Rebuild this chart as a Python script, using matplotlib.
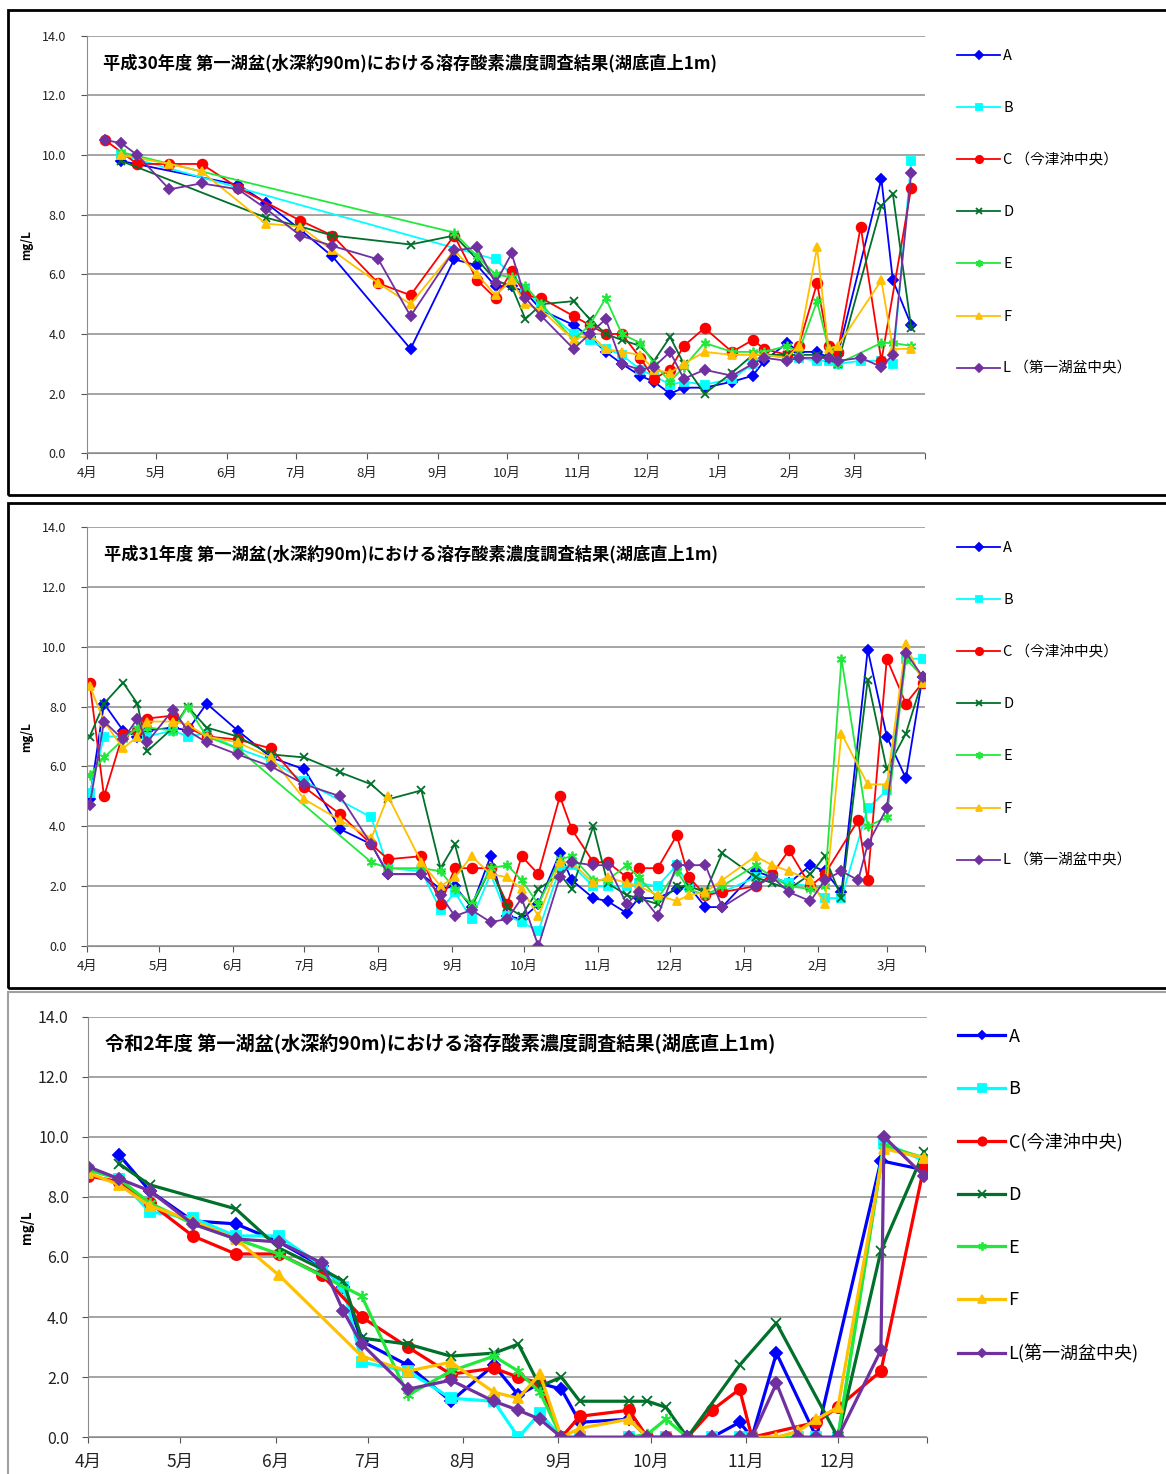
import numpy as np
import pandas as pd
import matplotlib
matplotlib.use('Agg')
import matplotlib.pyplot as plt
from matplotlib.patches import Rectangle

plt.rcParams['font.family'] = ['Noto Sans CJK JP', 'DejaVu Sans']

N = np.nan

# ---- 平成30年度 ----
dates_h30 = ['2018-04-09', '2018-04-16', '2018-04-23', '2018-05-07', '2018-05-21', '2018-06-06',
             '2018-06-18', '2018-07-03', '2018-07-17', '2018-08-06', '2018-08-20', '2018-09-08',
             '2018-09-18', '2018-09-26', '2018-10-03', '2018-10-09', '2018-10-16', '2018-10-30',
             '2018-11-06', '2018-11-13', '2018-11-20', '2018-11-28', '2018-12-04', '2018-12-11',
             '2018-12-17', '2018-12-26', '2019-01-07', '2019-01-16', '2019-01-21', '2019-01-31',
             '2019-02-05', '2019-02-13', '2019-02-18', '2019-02-22', '2019-03-04', '2019-03-13',
             '2019-03-18', '2019-03-26']
h30_A = [N, 9.8, N, N, N, 9.0, 8.4, 7.5, 6.6, N, 3.5, 6.5, 6.3, 5.6, 5.6, 5.4, 4.8, 4.3, 3.9, 3.4,
         3.0, 2.6, 2.4, 2.0, 2.2, 2.2, 2.4, 2.6, 3.1, 3.7, 3.4, 3.4, 3.2, 3.3, N, 9.2, 5.8, 4.3]
h30_B = [N, 10.0, N, N, N, N, N, N, N, N, N, N, N, 6.5, 6.0, 5.5, 4.9, 4.0, 3.8, 3.5,
         3.3, 2.8, 2.6, 2.3, 2.4, 2.3, 2.5, 3.0, 3.3, 3.2, 3.2, 3.1, 3.1, 3.0, 3.1, 3.1, 3.0, 9.8]
h30_C = [10.5, N, 9.7, 9.7, 9.7, 8.9, N, 7.8, 7.3, 5.7, 5.3, 7.3, 5.8, 5.2, 6.1, 5.3, 5.2, 4.6, 4.3, 4.0,
         4.0, 3.2, 2.5, 2.8, 3.6, 4.2, 3.4, 3.8, 3.5, 3.3, 3.6, 5.7, 3.6, 3.4, 7.6, 3.1, N, 8.9]
h30_D = [N, 9.8, N, N, N, N, 7.9, 7.6, 7.3, N, 7.0, 7.3, 6.5, 5.8, 5.6, 4.5, 5.0, 5.1, 4.5, 4.0,
         3.8, 3.6, 3.1, 3.9, 3.0, 2.0, 2.7, 3.3, 3.3, 3.3, 3.3, 3.3, 3.2, 3.0, N, 8.3, 8.7, 4.2]
h30_E = [N, 10.1, N, N, N, N, N, N, N, N, N, 7.4, 6.6, 6.0, 5.9, 5.6, 5.0, 3.8, 4.3, 5.2,
         4.0, 3.7, 3.0, 2.4, 2.9, 3.7, 3.4, 3.4, 3.4, 3.6, 3.4, 5.1, 3.5, 3.0, N, 3.7, 3.7, 3.6]
h30_F = [N, 10.0, N, 9.7, 9.45, N, 7.7, 7.6, 6.8, 5.7, 5.0, 6.8, 6.0, 5.3, 5.8, 5.0, 4.8, 3.8, 4.0, 3.5,
         3.4, 3.3, 2.8, 2.7, 3.0, 3.4, 3.3, 3.3, 3.3, 3.2, 3.6, 6.9, 3.5, 3.6, N, 5.8, 3.5, 3.5]
h30_L = [10.5, 10.4, 10.0, 8.85, 9.05, 8.85, 8.2, 7.3, 6.95, 6.5, 4.6, 6.8, 6.9, 5.7, 6.7, 5.2, 4.6, 3.5,
         4.0, 4.5, 3.0, 2.8, 2.9, 3.4, 2.5, 2.8, 2.6, 3.0, 3.2, 3.1, 3.2, 3.2, 3.2, 3.1, 3.2, 2.9, 3.3, 9.4]

# ---- 平成31年度 ----
dates_h31 = ['2019-04-02', '2019-04-08', '2019-04-16', '2019-04-22', '2019-04-26', '2019-05-07',
             '2019-05-13', '2019-05-21', '2019-06-03', '2019-06-17', '2019-07-01', '2019-07-16',
             '2019-07-29', '2019-08-05', '2019-08-19', '2019-08-27', '2019-09-02', '2019-09-09',
             '2019-09-17', '2019-09-24', '2019-09-30', '2019-10-07', '2019-10-16', '2019-10-21',
             '2019-10-30', '2019-11-05', '2019-11-13', '2019-11-18', '2019-11-26', '2019-12-04',
             '2019-12-09', '2019-12-16', '2019-12-23', '2020-01-06', '2020-01-13', '2020-01-20',
             '2020-01-29', '2020-02-04', '2020-02-11', '2020-02-18', '2020-02-22', '2020-03-01',
             '2020-03-09', '2020-03-16']
h31_A = [4.9, 8.1, 7.2, 7.0, 7.2, 7.3, 7.2, 8.1, 7.2, 6.3, 5.9, 3.9, 3.4, 2.4, 2.4, 1.9, 2.0, 1.3, 3.0, 1.0,
         0.9, 1.4, 3.1, 2.2, 1.6, 1.5, 1.1, 1.6, 1.6, 1.9, 2.0, 1.3, 1.3, 2.5, 2.3, 2.1, 2.7, 2.5, 1.8, N,
         9.9, 7.0, 5.6, 9.0]
h31_B = [5.1, 7.0, 7.0, 7.2, 7.0, 7.2, 7.0, 7.1, 6.6, 6.2, 5.5, N, 4.3, 2.6, 2.5, 1.2, 1.8, 0.9, 2.4, 1.0,
         0.8, 0.5, 2.6, 2.7, 2.0, 2.0, 2.0, 2.1, 2.0, 2.7, 2.0, 1.8, 1.8, 2.3, 2.3, 2.1, 2.0, 1.6, 1.6, N,
         4.6, 5.2, 9.6, 9.6]
h31_C = [8.8, 5.0, 7.1, 7.2, 7.6, 7.7, 7.3, 7.0, 6.9, 6.6, 5.3, 4.4, 3.4, 2.9, 3.0, 1.4, 2.6, 2.6, 2.6, 1.4,
         3.0, 2.4, 5.0, 3.9, 2.8, 2.8, 2.3, 2.6, 2.6, 3.7, 2.3, 1.7, 1.8, 2.0, 2.4, 3.2, 2.0, 2.4, N, 4.2,
         2.2, 9.6, 8.1, 8.8]
h31_D = [7.0, 8.1, 8.8, 8.1, 6.5, 7.3, 8.0, 7.3, 7.0, 6.4, 6.3, 5.8, 5.4, 4.9, 5.2, 2.6, 3.4, 1.3, 2.6, 1.3,
         1.0, 1.9, 2.4, 1.9, 4.0, 2.1, 1.7, 1.6, 1.4, 2.0, 2.0, 1.8, 3.1, 2.3, 2.1, 1.9, 2.4, 3.0, 1.6, N,
         8.9, 5.9, 7.1, 8.9]
h31_E = [5.7, 6.3, 6.9, 7.3, 7.3, 7.2, 8.0, 7.0, 6.6, N, N, N, 2.8, 2.6, 2.6, 2.5, 1.9, 1.4, 2.6, 2.7,
         2.2, 1.4, 2.9, 3.0, 2.2, 2.2, 2.7, 2.3, 1.6, 2.5, 1.9, 1.7, 2.0, 2.7, 2.3, 2.0, 1.9, 2.0, 9.6, N,
         4.0, 4.3, 9.6, 9.0]
h31_F = [8.7, 7.5, 6.6, 7.0, 7.5, 7.5, 7.4, 7.0, 6.8, 6.3, 4.9, 4.2, 3.6, 5.0, 2.8, 2.0, 2.3, 3.0, 2.4, 2.3,
         1.9, 1.0, 2.8, 2.8, 2.1, 2.3, 2.1, 2.0, 1.7, 1.5, 1.7, 1.8, 2.2, 3.0, 2.7, 2.5, 2.2, 1.4, 7.1, N,
         5.4, 5.4, 10.1, 8.8]
h31_L = [4.7, 7.5, 6.9, 7.6, 6.8, 7.9, 7.2, 6.8, 6.4, 6.0, 5.4, 5.0, 3.4, 2.4, 2.4, 1.7, 1.0, 1.2, 0.8, 0.9,
         1.6, 0.0, 2.3, 2.8, 2.7, 2.7, 1.4, 1.8, 1.0, 2.7, 2.7, 2.7, 1.3, 2.0, 2.3, 1.8, 1.5, 2.2, 2.5, 2.2,
         3.4, 4.6, 9.8, 9.0]

# ---- 令和2年度 ----
dates_r2 = ['2020-04-01', '2020-04-11', '2020-04-21', '2020-05-05', '2020-05-19', '2020-06-02',
            '2020-06-16', '2020-06-23', '2020-06-29', '2020-07-14', '2020-07-28', '2020-08-11',
            '2020-08-19', '2020-08-26', '2020-09-02', '2020-09-08', '2020-09-24', '2020-09-30',
            '2020-10-06', '2020-10-13', '2020-10-21', '2020-10-30', '2020-11-03', '2020-11-11',
            '2020-11-18', '2020-11-24', '2020-12-01', '2020-12-15', '2020-12-16', '2020-12-29']
r2_A = [N, 9.4, 8.2, 7.2, 7.1, 6.5, 5.7, 5.0, 3.2, 2.4, 1.2, 2.4, 1.4, 1.8, 1.6, 0.5, 0.6, 0.0, 0.0, 0.0,
        0.0, 0.5, 0.0, 2.8, N, 0.0, N, 9.2, N, 8.9]
r2_B = [8.9, 8.6, 7.5, 7.3, 6.7, 6.7, 5.7, 5.0, 2.5, 2.2, 1.3, 1.2, 0.0, 0.8, 0.0, 0.0, 0.0, 0.0, 0.0, 0.0,
        0.0, 0.0, 0.0, N, 0.0, 0.0, 0.0, N, 9.8, 9.2]
r2_C = [8.7, 8.5, 7.8, 6.7, 6.1, 6.1, 5.4, N, 4.0, 3.0, 2.1, 2.3, 2.0, 1.8, 0.0, 0.7, 0.9, 0.0, 0.0, 0.0,
        0.9, 1.6, 0.0, N, N, 0.5, 1.0, 2.2, N, 9.0]
r2_D = [N, 9.1, 8.4, N, 7.6, 6.3, 5.6, 5.2, 3.3, 3.1, 2.7, 2.8, 3.1, 1.7, 2.0, 1.2, 1.2, 1.2, 1.0, 0.0,
        N, 2.4, N, 3.8, N, N, 0.0, 6.2, N, 9.5]
r2_E = [8.9, 8.6, 7.8, 7.1, 6.6, 6.1, N, N, 4.7, 1.4, 2.2, 2.7, 2.2, 1.5, 0.0, 0.0, 0.0, 0.1, 0.6, 0.0,
        N, 0.0, 0.0, N, 0.0, 0.0, 0.0, N, 9.7, 9.3]
r2_F = [8.8, 8.4, 7.7, 7.2, 6.6, 5.4, N, N, 2.7, 2.2, 2.5, 1.5, 1.3, 2.1, 0.0, 0.3, 0.6, 0.0, 0.0, 0.0,
        N, 0.0, 0.0, 0.0, 0.2, 0.6, 1.0, N, 9.6, 9.3]
r2_L = [9.0, 8.6, 8.2, 7.1, 6.6, 6.5, 5.8, 4.2, 3.1, 1.6, 1.9, 1.2, 0.9, 0.6, 0.0, 0.0, 0.0, 0.0, 0.0, 0.0,
        0.0, 0.0, 0.0, 1.8, 0.0, 0.0, 0.0, 2.9, 10.0, 8.7]

titles = ['平成30年度 第一湖盆(水深約90m)における溶存酸素濃度調査結果(湖底直上1m)',
          '平成31年度 第一湖盆(水深約90m)における溶存酸素濃度調査結果(湖底直上1m)',
          '令和2年度 第一湖盆(水深約90m)における溶存酸素濃度調査結果(湖底直上1m)']
labels_old = ['A', 'B', 'C （今津沖中央）', 'D', 'E', 'F', 'L （第一湖盆中央）']
labels_new = ['A', 'B', 'C(今津沖中央)', 'D', 'E', 'F', 'L(第一湖盆中央)']
y_ticks = [0, 2, 4, 6, 8, 10, 12, 14]

COLORS = ['#0000ff', '#00ffff', '#ff0000', '#00702a', '#22e83c', '#ffc000', '#7030a0']
MARKERS = ['D', 's', 'o', 'x', (6, 2, 0), '^', 'D']
MSIZES = [5, 6, 7, 6, 7, 6, 5]

W, H = 1166, 1474


def fx(px):
    return px / W


def fy(py):
    return 1 - py / H


def draw_panel(fig, ax_px, dates, series, xlim, month_end, title, labels, leg_xy, ylab_y, big=False):
    left, top, right, bottom = ax_px
    ax = fig.add_axes([fx(left), fy(bottom), (right - left) / W, (bottom - top) / H])
    x = pd.to_datetime(dates)
    lw = 2.3 if big else 1.3
    scale = 1.15 if big else 1.0
    handles = []
    for vals, c, m, ms in zip(series, COLORS, MARKERS, MSIZES):
        v = np.array(vals, dtype=float)
        ok = ~np.isnan(v)
        ln, = ax.plot(x[ok], v[ok], color=c, marker=m, markersize=ms * scale, lw=lw,
                      markeredgewidth=1.3, markeredgecolor=c, markerfacecolor=c)
        handles.append(ln)

    ax.set_xlim(pd.Timestamp(xlim[0]), pd.Timestamp(xlim[1]))
    ax.set_ylim(0, 14)
    ax.set_yticks(y_ticks)
    ax.set_yticklabels([f'{t:.1f}' for t in y_ticks])
    months = pd.date_range(xlim[0], month_end, freq='MS')
    ax.set_xticks(list(months) + [pd.Timestamp(xlim[1])])
    ax.set_xticklabels([f'{d.month}月' for d in months] + [''])
    ax.tick_params(axis='x', labelsize=12.5 if big else 9.5, pad=7 if big else 6)
    ax.tick_params(axis='y', labelsize=11.5 if big else 9, pad=10 if big else 11)
    ax.tick_params(axis='both', colors='#555555', labelcolor='#222222', direction='out', length=4)
    ax.grid(axis='y', color='#8c8c8c', lw=1.1)
    ax.set_axisbelow(True)
    for s in ['top', 'right']:
        ax.spines[s].set_visible(False)
    for s in ['left', 'bottom']:
        ax.spines[s].set_color('#8c8c8c')

    ax.text(0.02, 0.935, title, transform=ax.transAxes, fontsize=13.8 if big else 12.4,
            fontweight='bold', va='center', ha='left')
    fig.text(fx(27), fy(ylab_y), 'mg/L', rotation=90, fontsize=9.5 if big else 8.5,
             fontweight='bold', ha='center', va='center')

    # legend to the right of the plot area
    lfs = 13 if big else 10.5
    fpx = lfs * 100 / 72
    row = 1.07 * fpx if big else 0.99 * fpx
    spacing = 54.0 if big else 52.6
    fig.legend(handles, labels, loc='upper left', bbox_to_anchor=(fx(leg_xy[0]), fy(leg_xy[1])),
               bbox_transform=fig.transFigure, frameon=False, fontsize=lfs,
               labelspacing=(spacing - row) / fpx,
               handlelength=2.6 if big else 2.95, handletextpad=0.2, borderpad=0, markerscale=0.75)
    return ax


def main():
    fig = plt.figure(figsize=(W / 100, H / 100), dpi=100)

    # panel frames
    fig.add_artist(Rectangle((fx(8), fy(495)), 1.0, 485 / H, transform=fig.transFigure,
                             fill=False, edgecolor='black', lw=2))
    fig.add_artist(Rectangle((fx(8), fy(988)), 1.0, 485 / H, transform=fig.transFigure,
                             fill=False, edgecolor='black', lw=2))
    fig.add_artist(Rectangle((fx(8), fy(1480)), 1.0, 488 / H, transform=fig.transFigure,
                             fill=False, edgecolor='#a0a0a0', lw=1.5))

    draw_panel(fig, (86.7, 35.7, 925, 453.3), dates_h30,
               [h30_A, h30_B, h30_C, h30_D, h30_E, h30_F, h30_L],
               ('2018-04-01', '2019-04-01'), '2019-03-01', titles[0], labels_old, (950, 41.5), 245)
    draw_panel(fig, (87.3, 527, 925, 946), dates_h31,
               [h31_A, h31_B, h31_C, h31_D, h31_E, h31_F, h31_L],
               ('2019-04-01', '2020-03-17'), '2020-03-01', titles[1], labels_old, (950, 533.5), 737)
    draw_panel(fig, (88.3, 1016.5, 927, 1437.3), dates_r2,
               [r2_A, r2_B, r2_C, r2_D, r2_E, r2_F, r2_L],
               ('2020-04-01', '2020-12-30'), '2020-12-01', titles[2], labels_new, (949, 1018.5), 1227,
               big=True)

    fig.savefig('out.png', dpi=100)


if __name__ == "__main__":
    main()
